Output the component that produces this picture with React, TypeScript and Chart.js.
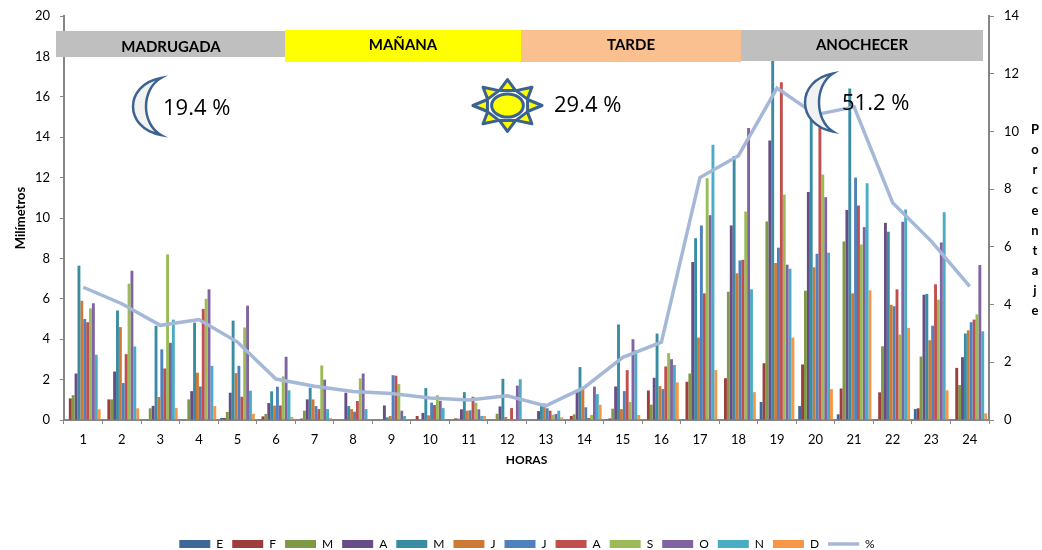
import React, { useEffect, useRef } from "react";
import { Chart, registerables } from "chart.js";

Chart.register(...registerables);

const horas = ["1","2","3","4","5","6","7","8","9","10","11","12","13","14","15","16","17","18","19","20","21","22","23","24"];

const ene = [0,0,0,0,0.1,0.05,0,0,0,0,0,0,0,0,0.05,0,0.03,0,0.89,0.69,0.28,0.05,0.54,0];
const feb = [1.07,1.02,0.03,0,0.1,0.18,0.07,0,0,0.2,0.08,0,0,0.2,0.08,1.46,1.89,2.07,2.81,2.75,1.56,1.37,0.58,2.58];
const mar = [1.23,1.02,0.58,1.02,0.4,0.3,0.46,0,0.03,0,0.07,0.31,0,0.28,0.56,0.76,2.3,6.35,9.83,6.4,8.84,3.65,3.14,1.73];
const abr = [2.3,2.4,0.7,1.43,1.35,0.84,1.02,1.35,0.72,0.35,0.53,0.67,0.44,1.48,1.66,2.09,7.82,9.63,13.84,11.29,10.4,9.76,6.2,3.11];
const may = [7.64,5.42,4.66,4.82,4.92,1.42,1.6,0.69,0.13,1.58,1.38,2.04,0.74,2.62,4.73,4.28,9.0,13.07,18,15,16.41,9.32,6.24,4.28];
const jun = [5.9,4.6,1.14,2.34,2.32,0.71,1.02,0.54,0.2,0.23,0.46,0.15,0.82,1.61,0.54,1.68,4.08,7.26,7.77,7.56,6.27,5.7,3.95,4.44];
const jul = [5.0,1.83,3.5,1.66,2.68,1.65,0.69,0.41,2.22,0.86,0.48,0.03,0.58,0.63,1.43,1.53,9.63,7.9,8.53,8.23,12,5.63,4.67,4.84];
const ago = [4.84,3.26,2.55,5.5,1.15,0.72,0.54,0.94,2.19,0.74,1.15,0.59,0.46,0.1,2.47,2.65,6.27,7.93,16.72,14.6,10.62,6.47,6.72,4.97];
const sep = [5.53,6.75,8.2,6.0,4.58,2.16,2.7,2.06,1.78,1.23,0.86,0.03,0.26,0.25,0.89,3.31,11.97,10.32,11.16,12.15,8.69,4.23,5.96,5.23];
const oct = [5.78,7.39,3.82,6.47,5.66,3.13,2.0,2.3,0.46,0.95,0.53,1.7,0.3,1.65,4.0,3.01,10.14,14.45,7.69,11.03,9.55,9.81,8.79,7.67];
const nov = [3.23,3.64,4.97,2.68,1.45,1.47,0.54,0.54,0.2,0.59,0.2,2.02,0.46,1.28,3.46,2.72,13.63,6.47,7.49,8.28,11.72,10.42,10.29,4.39];
const dic = [0.53,0.58,0.6,0.69,0.31,0.15,0.1,0.03,0.03,0.02,0.2,0,0.13,0.76,0.25,1.86,2.47,1.38,4.08,1.53,6.42,4.56,1.47,0.33];
const porcentaje = [4.6,4.03,3.28,3.48,2.7,1.42,1.17,0.99,0.92,0.76,0.69,0.84,0.49,1.13,2.17,2.7,8.4,9.16,11.5,10.58,10.85,7.53,6.2,4.63];

const meses = ["E","F","M","A","M","J","J","A","S","O","N","D"];
const valores = [ene,feb,mar,abr,may,jun,jul,ago,sep,oct,nov,dic];
const colores = ["#3F6797","#9E3D3B","#7E9A47","#664D85","#3A8CA3","#CC7A36","#4F81BD","#C0504D","#9BBB59","#8064A2","#4BACC6","#F79646"];

const FONT = "Lato, 'Open Sans', sans-serif";
const AXIS = "#868686";
const ICON = "#3B6391";
const LINE = "#A5B8D8";

const bands = [
  { label: "MADRUGADA", x0: 56, x1: 285, y0: 31, y1: 57, fill: "#BFBFBF", tx: 171, ty: 47 },
  { label: "MAÑANA", x0: 285, x1: 521, y0: 30, y1: 62, fill: "#FFFF00", tx: 403, ty: 45 },
  { label: "TARDE", x0: 521, x1: 741, y0: 30, y1: 62, fill: "#FBC08F", tx: 631, ty: 45 },
  { label: "ANOCHECER", x0: 741, x1: 983, y0: 30, y1: 61, fill: "#BFBFBF", tx: 862, ty: 45 },
];

function moon(ctx: CanvasRenderingContext2D, tipX: number, yTop: number, yBot: number, outerX: number, innerX: number) {
  const h = yBot - yTop;
  const cOuter = (8 * outerX - 2 * tipX) / 6;
  const cInner = (8 * innerX - 2 * tipX) / 6;
  ctx.beginPath();
  ctx.moveTo(tipX, yTop);
  ctx.bezierCurveTo(cOuter, yTop + h * 0.12, cOuter, yBot - h * 0.12, tipX, yBot);
  ctx.bezierCurveTo(cInner, yBot - h * 0.2, cInner, yTop + h * 0.2, tipX, yTop);
  ctx.closePath();
  ctx.fillStyle = "#F2F2F2";
  ctx.fill();
  ctx.lineJoin = "miter";
  ctx.lineWidth = 2.5;
  ctx.strokeStyle = ICON;
  ctx.stroke();
}

function sun(ctx: CanvasRenderingContext2D, cx: number, cy: number, rx: number, ry: number) {
  ctx.lineWidth = 3;
  ctx.lineJoin = "round";
  ctx.strokeStyle = ICON;
  ctx.fillStyle = "#FFFF00";
  for (let i = 0; i < 8; i++) {
    const a = (i * Math.PI) / 4;
    const d = 0.38;
    const r = 0.6;
    ctx.beginPath();
    ctx.moveTo(cx + rx * 0.96 * Math.cos(a), cy + ry * 0.96 * Math.sin(a));
    ctx.lineTo(cx + rx * r * Math.cos(a + d), cy + ry * r * Math.sin(a + d));
    ctx.lineTo(cx + rx * r * Math.cos(a - d), cy + ry * r * Math.sin(a - d));
    ctx.closePath();
    ctx.fill();
    ctx.stroke();
  }
  ctx.beginPath();
  ctx.ellipse(cx, cy, rx * 0.44, ry * 0.43, 0, 0, Math.PI * 2);
  ctx.fill();
  ctx.stroke();
}

const overlay = {
  id: "overlay",
  afterLayout(chart: any) {
    if (chart.legend) {
      const h = chart.legend.height;
      chart.legend.top = 529;
      chart.legend.bottom = 529 + h;
      chart.legend.left += 6;
      chart.legend.right += 6;
    }
  },
  afterDraw(chart: any) {
    const ctx: CanvasRenderingContext2D = chart.ctx;
    ctx.save();
    for (const b of bands) {
      ctx.fillStyle = b.fill;
      ctx.fillRect(b.x0, b.y0, b.x1 - b.x0, b.y1 - b.y0);
    }
    ctx.fillStyle = "#000";
    ctx.textAlign = "center";
    ctx.textBaseline = "middle";
    ctx.font = `bold 15px ${FONT}`;
    for (const b of bands) ctx.fillText(b.label, b.tx, b.ty);

    moon(ctx, 161, 78, 135, 133, 146);
    moon(ctx, 833, 73.5, 131.5, 805, 819);
    sun(ctx, 507.5, 105.5, 36, 27);

    ctx.fillStyle = "#000";
    ctx.font = "22px 'Open Sans', sans-serif";
    ctx.textAlign = "left";
    ctx.fillText("19.4 %", 163, 109);
    ctx.fillText("29.4 %", 554, 106);
    ctx.fillText("51.2 %", 842, 104);

    ctx.font = `bold 13px ${FONT}`;
    ctx.textAlign = "center";
    "Porcentaje".split("").forEach((c, i) => ctx.fillText(c, 1035, 130 + i * 20.1));
    ctx.restore();
  },
};

export default function App() {
  const ref = useRef<HTMLCanvasElement | null>(null);
  useEffect(() => {
    const chart = new Chart(ref.current as HTMLCanvasElement, {
      type: "bar",
      plugins: [overlay],
      data: {
        labels: horas,
        datasets: [
          ...meses.map((m, i) => ({
            type: "bar" as const,
            label: m,
            data: valores[i],
            backgroundColor: colores[i],
            yAxisID: "y",
            order: 2,
            categoryPercentage: 0.9,
            barPercentage: 1,
          })),
          {
            type: "line" as const,
            label: "%",
            data: porcentaje,
            borderColor: LINE,
            backgroundColor: LINE,
            borderWidth: 3.5,
            pointRadius: 0,
            tension: 0,
            yAxisID: "y1",
            order: 1,
          },
        ],
      },
      options: {
        responsive: false,
        animation: false,
        layout: { padding: { top: 16, left: 0, right: 0, bottom: 0 } },
        plugins: {
          title: { display: false },
          tooltip: { enabled: false },
          legend: {
            display: true,
            position: "bottom",
            labels: {
              usePointStyle: true,
              boxHeight: 8,
              pointStyleWidth: 31,
              padding: 9,
              color: "#000",
              font: { family: FONT, size: 12 },
              sort: (a: any, b: any) => a.datasetIndex - b.datasetIndex,
              generateLabels(c: any) {
                const base = Chart.defaults.plugins.legend.labels.generateLabels(c);
                return base.map((it: any) => {
                  const isBar = it.datasetIndex < meses.length;
                  return {
                    ...it,
                    pointStyle: isBar ? "rect" : "line",
                    lineWidth: isBar ? 0 : 3.5,
                    strokeStyle: isBar ? "transparent" : LINE,
                    fillStyle: isBar ? colores[it.datasetIndex] : LINE,
                  };
                });
              },
            },
          },
        },
        scales: {
          x: {
            offset: true,
            grid: { offset: true, drawOnChartArea: false, drawTicks: true, tickLength: 4, tickColor: AXIS },
            border: { color: AXIS, width: 2 },
            ticks: { color: "#000", font: { family: FONT, size: 13 }, padding: 8, maxRotation: 0, autoSkip: false },
            title: { display: true, text: "HORAS", color: "#000", font: { family: FONT, size: 12, weight: "bold" }, padding: { top: 0, bottom: 52 } },
            afterFit(s: any) { s.height = 99; s.paddingLeft = 0; s.paddingRight = 0; },
          },
          y: {
            position: "left",
            min: 0,
            max: 20,
            ticks: { stepSize: 2, color: "#000", font: { family: FONT, size: 13 }, padding: 10 },
            grid: { drawOnChartArea: false, tickLength: 4, tickColor: AXIS },
            border: { color: AXIS, width: 2 },
            title: { display: true, text: "Milímetros", color: "#000", font: { family: FONT, size: 13, weight: "bold" }, padding: { top: 13, bottom: 0 } },
            afterFit(s: any) { s.width = 64; s.paddingTop = 0; s.paddingBottom = 0; },
          },
          y1: {
            position: "right",
            min: 0,
            max: 14,
            ticks: { stepSize: 2, color: "#000", font: { family: FONT, size: 13 }, padding: 10 },
            grid: { drawOnChartArea: false, tickLength: 5, tickColor: AXIS },
            border: { color: AXIS, width: 2 },
            afterFit(s: any) { s.width = 53; s.paddingTop = 0; s.paddingBottom = 0; },
          },
        },
      },
    } as any);
    return () => chart.destroy();
  }, []);
  return (
    <div style={{ position: "absolute", left: 0, top: 0, width: 1042, height: 550 }}>
      <canvas ref={ref} width={1042} height={550} style={{ display: "block" }} />
    </div>
  );
}
